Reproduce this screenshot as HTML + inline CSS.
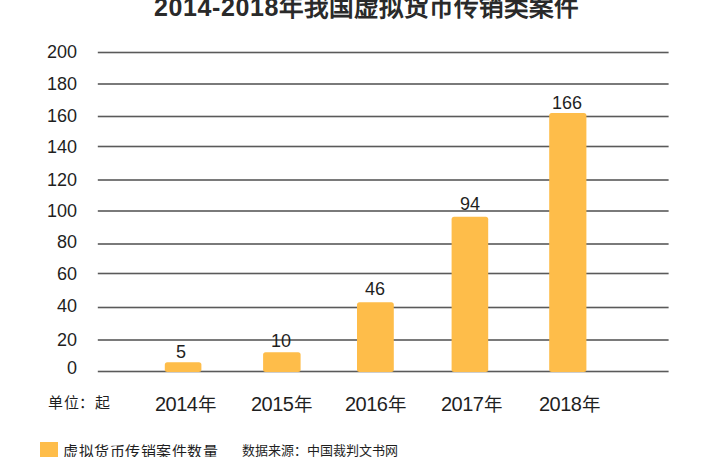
<!DOCTYPE html>
<html lang="zh-CN"><head><meta charset="utf-8">
<style>
html,body{margin:0;padding:0;background:#fff;}
body{width:712px;height:457px;position:relative;overflow:hidden;font-family:"Liberation Sans",sans-serif;color:#1f1f1f;}
.t{position:absolute;white-space:nowrap;line-height:1;}
.yl{position:absolute;right:635px;font-size:18px;line-height:1;white-space:nowrap;}
.xl{position:absolute;font-size:20px;line-height:1;white-space:nowrap;}
.vl{position:absolute;font-size:18px;line-height:1;white-space:nowrap;}
</style></head><body>
<svg width="712" height="457" style="position:absolute;left:0;top:0">
<rect class="gl" x="97.8" y="51.70" width="570.8" height="1.60" fill="#5a5a5a"/>
<rect class="gl" x="97.8" y="83.20" width="570.8" height="1.60" fill="#5a5a5a"/>
<rect class="gl" x="97.8" y="115.70" width="570.8" height="1.60" fill="#5a5a5a"/>
<rect class="gl" x="97.8" y="145.70" width="570.8" height="1.60" fill="#5a5a5a"/>
<rect class="gl" x="97.8" y="179.20" width="570.8" height="1.60" fill="#5a5a5a"/>
<rect class="gl" x="97.8" y="210.20" width="570.8" height="1.60" fill="#5a5a5a"/>
<rect class="gl" x="97.8" y="243.20" width="570.8" height="1.60" fill="#5a5a5a"/>
<rect class="gl" x="97.8" y="272.70" width="570.8" height="1.60" fill="#5a5a5a"/>
<rect class="gl" x="97.8" y="306.70" width="570.8" height="1.60" fill="#5a5a5a"/>
<rect class="gl" x="97.8" y="339.20" width="570.8" height="1.60" fill="#5a5a5a"/>
<rect class="gl" x="97.8" y="370.70" width="570.8" height="1.60" fill="#5a5a5a"/>
<rect x="164.8" y="362.3" width="36.6" height="9.6" rx="2.5" fill="#febd4a"/>
<rect x="263.1" y="352.2" width="37.5" height="19.7" rx="2.5" fill="#febd4a"/>
<rect x="357.0" y="302.3" width="36.8" height="69.6" rx="2.5" fill="#febd4a"/>
<rect x="451.6" y="216.7" width="36.6" height="155.2" rx="2.5" fill="#febd4a"/>
<rect x="549.2" y="113.1" width="37.2" height="258.8" rx="2.5" fill="#febd4a"/>
</svg>
<div class="t" id="title" style="left:154px;top:-5px;font-size:25px;font-weight:bold;color:#2a2a2a;"><span style="letter-spacing:0.6px">2014-2018</span><span style="font-size:24.6px">年我国虚拟货币传销类案件</span></div>

<div class="yl" style="top:43px">200</div>
<div class="yl" style="top:75px">180</div>
<div class="yl" style="top:107px">160</div>
<div class="yl" style="top:138px">140</div>
<div class="yl" style="top:171px">120</div>
<div class="yl" style="top:202px">100</div>
<div class="yl" style="top:233px">80</div>
<div class="yl" style="top:265px">60</div>
<div class="yl" style="top:297px">40</div>
<div class="yl" style="top:331px">20</div>
<div class="yl" style="top:359px">0</div>

<div class="vl" style="left:176px;top:343px">5</div>
<div class="vl" style="left:271px;top:332px">10</div>
<div class="vl" style="left:365px;top:280px">46</div>
<div class="vl" style="left:460px;top:195px">94</div>
<div class="vl" style="left:552px;top:94px">166</div>

<div class="xl" style="left:155px;top:394px"><span style="letter-spacing:-0.5px">2014</span><span style="font-size:18.5px;margin-left:0.5px">年</span></div>
<div class="xl" style="left:251px;top:394px"><span style="letter-spacing:-0.5px">2015</span><span style="font-size:18.5px;margin-left:0.5px">年</span></div>
<div class="xl" style="left:345px;top:394px"><span style="letter-spacing:-0.5px">2016</span><span style="font-size:18.5px;margin-left:0.5px">年</span></div>
<div class="xl" style="left:441px;top:394px"><span style="letter-spacing:-0.5px">2017</span><span style="font-size:18.5px;margin-left:0.5px">年</span></div>
<div class="xl" style="left:539px;top:394px"><span style="letter-spacing:-0.5px">2018</span><span style="font-size:18.5px;margin-left:0.5px">年</span></div>

<div class="t" style="left:48px;top:395px;font-size:15px;letter-spacing:0.6px;">单位：起</div>

<div style="position:absolute;left:40.3px;top:442px;width:18px;height:18px;background:#febd4a;"></div>
<div class="t" style="left:63px;top:444px;font-size:15px;letter-spacing:0.55px;">虚拟货币传销案件数量</div>
<div class="t" style="left:242px;top:444px;font-size:13px;">数据来源：中国裁判文书网</div>
</body></html>
